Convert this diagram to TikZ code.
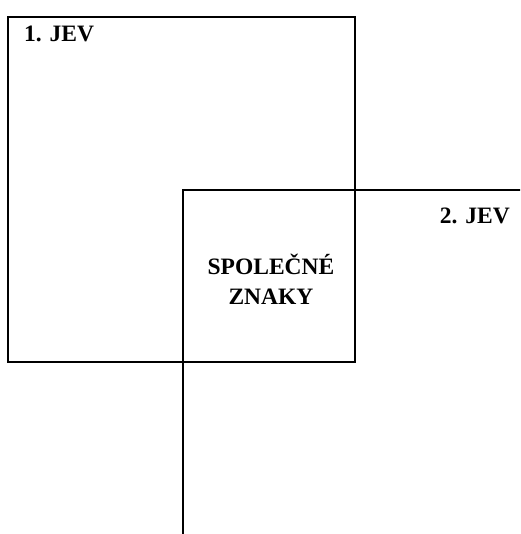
\documentclass[tikz,border=0pt]{standalone}
\usepackage{fontspec}
\setmainfont{Liberation Serif}
\begin{document}
\begin{tikzpicture}[x=1pt,y=-1pt,
  box/.style={draw=black,line width=1.6pt,fill=none},
  lbl/.style={font=\fontsize{23.5}{30}\selectfont\bfseries,inner sep=0pt,text=black}]
\useasboundingbox (0,0) rectangle (520,534);
\begin{scope}
\clip (0,0) rectangle (520,534);
\draw[box] (8,17) rectangle (355,362);
\draw[box] (183,190) rectangle (540,560);
\end{scope}
\node[lbl,anchor=base west] (j1) at (24,42) {1. JEV};
\node[lbl,anchor=base east] (j2) at (510,224) {2. JEV};
\node[lbl,anchor=base] (s1) at (271,274) {SPOLEČNÉ};
\node[lbl,anchor=base] (s2) at (271,304) {ZNAKY};
\end{tikzpicture}
\end{document}
